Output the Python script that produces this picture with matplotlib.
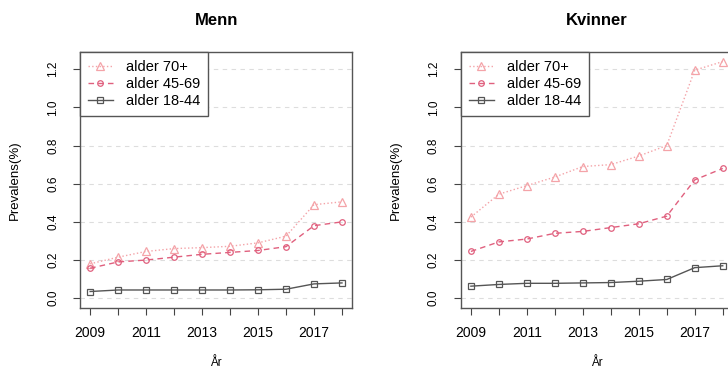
import matplotlib.pyplot as plt

plt.rcParams['font.family'] = ['Liberation Sans', 'DejaVu Sans']

years = [2009, 2010, 2011, 2012, 2013, 2014, 2015, 2016, 2017, 2018]
year_labels = ['2009', '', '2011', '', '2013', '', '2015', '', '2017', '']

# Menn
menn_70 = [0.18, 0.215, 0.245, 0.26, 0.265, 0.272, 0.29, 0.325, 0.49, 0.505]
menn_45 = [0.157, 0.19, 0.20, 0.215, 0.23, 0.24, 0.25, 0.27, 0.38, 0.40]
menn_18 = [0.035, 0.043, 0.043, 0.043, 0.043, 0.043, 0.044, 0.047, 0.075, 0.08]

# Kvinner
kv_70 = [0.425, 0.545, 0.59, 0.635, 0.69, 0.70, 0.745, 0.80, 1.195, 1.24]
kv_45 = [0.245, 0.295, 0.31, 0.34, 0.35, 0.37, 0.39, 0.43, 0.62, 0.68]
kv_18 = [0.063, 0.072, 0.078, 0.078, 0.08, 0.082, 0.089, 0.098, 0.16, 0.17]

yticks = [0.0, 0.2, 0.4, 0.6, 0.8, 1.0, 1.2]

c70 = '#f4a3a8'
c45 = '#e0607e'
c18 = '#555555'

fig = plt.figure(figsize=(7.28, 3.69), dpi=100)
ax1 = fig.add_axes([0.110, 0.165, 0.3736, 0.694])
ax2 = fig.add_axes([0.633, 0.165, 0.3736, 0.694])

panels = [(ax1, 'Menn', menn_70, menn_45, menn_18),
          (ax2, 'Kvinner', kv_70, kv_45, kv_18)]

for ax, title, s70, s45, s18 in panels:
    for y in yticks:
        ax.axhline(y, color='#dddddd', lw=0.8, ls=(0, (4, 4)), zorder=0)
    ax.plot(years, s70, color=c70, ls=':', lw=1.0, marker='^', ms=6,
            mfc='none', mec=c70, mew=0.9, label='alder 70+')
    ax.plot(years, s45, color=c45, ls=(0, (4, 3)), lw=1.0, marker='o', ms=4,
            mfc='none', mec=c45, mew=0.9, label='alder 45-69')
    ax.plot(years, s18, color=c18, ls='-', lw=1.0, marker='s', ms=4.5,
            mfc='none', mec=c18, mew=0.9, label='alder 18-44')
    ax.set_xlim(2008.64, 2018.36)
    ax.set_ylim(-0.052, 1.29)
    ax.set_xticks(years)
    ax.set_xticklabels(year_labels, fontsize=10)
    ax.set_yticks(yticks)
    ax.set_yticklabels(['%.1f' % v for v in yticks], fontsize=8.5,
                       rotation=90, va='center')
    ax.tick_params(length=5, width=0.8, color='#444444')
    ax.tick_params(axis='x', pad=8)
    ax.tick_params(axis='y', pad=10)
    for sp in ax.spines.values():
        sp.set_color('#555555')
        sp.set_linewidth(1.0)
    ax.text(0.5, 1.125, title, transform=ax.transAxes, ha='center',
            va='center', fontsize=12, fontweight='bold')
    ax.set_xlabel('År', fontsize=8.5, va='center')
    ax.xaxis.set_label_coords(0.5, -0.215)
    ax.set_ylabel('Prevalens(%)', fontsize=9.5, va='center')
    ax.yaxis.set_label_coords(-0.239, 0.5)
    leg = ax.legend(loc='upper left', bbox_to_anchor=(0, 1), borderaxespad=0,
                    fancybox=False, edgecolor='#555555', framealpha=1,
                    fontsize=10.5, handlelength=1.7, handletextpad=0.9,
                    labelspacing=0.22, borderpad=0.55)
    leg.get_frame().set_linewidth(1.0)

fig.savefig('out.png', dpi=100)
